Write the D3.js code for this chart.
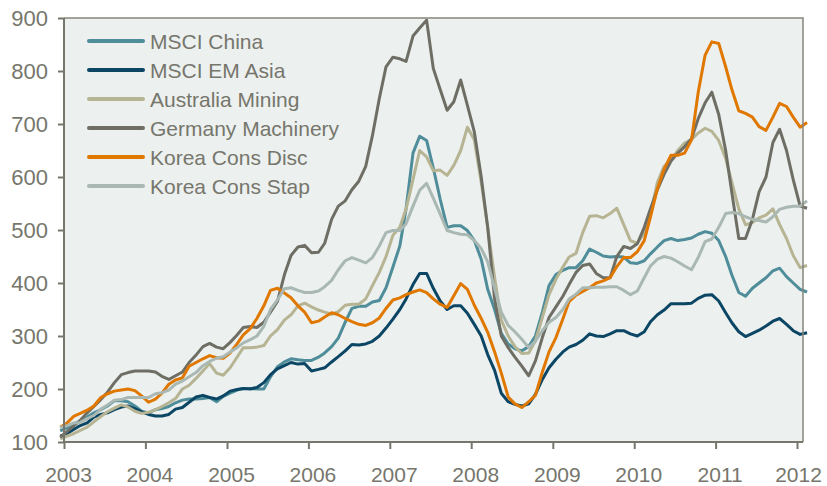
<!DOCTYPE html>
<html>
<head>
<meta charset="utf-8">
<script src="https://cdn.jsdelivr.net/npm/d3@7"></script>
<style>
body { margin: 0; background: #fff; }
svg { display: block; font-family: "Liberation Sans", Arial, sans-serif; }
</style>
</head>
<body>
<script>
// monthly index values, Dec 2002 .. Feb 2012 (one row per year)
var msciChina = [121,
  127,134,140,147,155,161,168,178,178,176,168,158,
  155,161,163,167,174,179,181,181,182,184,176,186,
  192,198,201,201,200,200,223,242,251,257,255,254,
  254,260,268,280,296,326,352,356,356,364,367,391,
  430,470,540,645,677,669,617,558,505,508,508,499,
  480,445,388,350,305,285,276,272,280,300,345,395,
  416,424,429,429,442,464,458,451,449,450,449,438,
  437,442,455,468,480,484,480,482,485,492,497,494,
  480,450,415,382,375,390,400,410,423,428,412,400,
  388,383];

var msciEmAsia = [111,
  116,124,131,136,147,152,155,161,166,168,163,157,
  152,149,149,152,162,165,175,185,188,184,181,187,
  196,199,201,200,203,212,227,238,244,250,247,248,
  234,237,240,251,261,272,284,283,285,290,300,315,
  332,350,370,397,418,418,390,366,350,357,357,343,
  322,300,265,235,192,176,171,168,172,190,218,240,
  256,270,279,284,292,304,300,299,304,310,310,304,
  300,308,327,340,349,361,361,361,362,371,377,378,
  366,344,325,308,299,305,311,319,328,333,322,310,
  303,306];

var australiaMining = [106,
  111,116,122,128,138,148,157,164,170,166,158,154,
  156,161,167,174,182,200,207,220,234,248,230,226,
  240,260,278,278,279,282,300,312,330,340,357,362,
  355,349,345,341,346,358,360,360,370,395,420,450,
  490,505,540,595,650,638,612,613,603,622,650,694,
  670,590,505,410,330,300,280,267,268,291,335,378,
  407,430,449,456,495,526,527,523,531,541,510,480,
  475,494,530,590,620,632,650,664,671,683,692,686,
  669,635,590,540,510,514,523,528,540,510,484,452,
  429,433];

var germanyMachinery = [109,
  120,131,141,155,167,180,194,212,227,231,234,234,
  234,232,224,218,225,232,250,264,280,286,279,276,
  288,302,316,318,316,326,345,365,415,452,468,471,
  457,458,475,520,545,555,576,592,620,678,748,808,
  826,823,818,866,881,896,805,765,726,742,783,735,
  685,600,505,370,300,278,260,243,225,253,297,335,
  355,375,397,420,433,436,418,410,410,450,469,465,
  474,505,540,576,605,630,645,657,672,710,740,760,
  718,650,570,484,484,520,572,600,665,690,650,595,
  545,541];

var koreaConsDisc = [128,
  136,149,154,160,168,184,191,196,198,200,197,187,
  175,181,192,209,217,221,243,250,257,263,259,258,
  268,285,302,314,333,357,386,390,381,372,357,345,
  325,328,336,344,340,333,327,322,320,325,334,352,
  368,372,378,383,387,382,370,360,354,376,399,388,
  358,333,307,270,230,185,172,165,176,188,232,270,
  297,332,365,377,384,391,400,404,410,431,448,448,
  459,480,525,578,615,641,641,645,670,760,830,855,
  852,808,765,725,720,713,695,688,713,739,733,713,
  694,703];

var koreaConsStap = [127,
  131,136,137,144,150,162,170,179,180,184,184,184,
  184,191,193,198,209,215,223,231,244,252,258,261,
  270,278,287,293,300,318,350,368,389,391,386,382,
  382,385,393,405,425,442,448,443,438,448,470,495,
  499,499,512,545,575,588,560,530,499,495,492,491,
  480,465,440,390,345,320,308,294,278,290,310,326,
  335,350,370,379,391,391,392,392,393,393,386,378,
  385,410,432,445,450,447,440,432,425,448,478,483,
  505,531,533,531,525,520,518,515,525,539,543,545,
  545,555];

var seriesNames = ["MSCI China", "MSCI EM Asia", "Australia Mining",
                   "Germany Machinery", "Korea Cons Disc", "Korea Cons Stap"];
var seriesColors = ["#4e8d99", "#0c4665", "#b6b493", "#6e6e65", "#e07800", "#a9b8b3"];
var seriesValues = [msciChina, msciEmAsia, australiaMining, germanyMachinery, koreaConsDisc, koreaConsStap];

var yTicks = [100, 200, 300, 400, 500, 600, 700, 800, 900];
var yearTicks = [2003, 2004, 2005, 2006, 2007, 2008, 2009, 2010, 2011, 2012];

// months Dec 2002 .. Feb 2012, plotted mid-month
var months = d3.timeMonth.range(new Date(2002, 11, 1), new Date(2012, 2, 1));

var axisColor = "#76766c";

//---------setup plot-----------------------//
var margin = { top: 18, right: 24, bottom: 44, left: 64 },
    width = 827 - margin.left - margin.right,
    height = 486 - margin.top - margin.bottom;

var x = d3.scaleTime()
    .domain([new Date(2003, 0, 1), new Date(2012, 0, 1)])
    .range([0, width - 6]);

var y = d3.scaleLinear()
    .domain([100, 900])
    .range([height, 0]);

var svg = d3.select("body").append("svg")
    .attr("width", 827)
    .attr("height", 486);

var g = svg.append("g")
    .attr("transform", "translate(" + margin.left + "," + margin.top + ")");

// plot background
g.append("rect")
    .attr("width", width)
    .attr("height", height)
    .attr("fill", "#ecf0ef");

//-------------data----------//
var line = d3.line()
    .x(function(d, i) { return x(d3.timeDay.offset(months[i], 14)); })
    .y(function(d) { return y(d); });

g.selectAll(".series")
    .data(seriesValues)
    .enter().append("path")
    .attr("class", "series")
    .attr("d", function(d) { return line(d); })
    .attr("fill", "none")
    .attr("stroke", function(d, i) { return seriesColors[i]; })
    .attr("stroke-width", 3)
    .attr("stroke-linejoin", "round");

// frame: top + right lighter, left + bottom axis lines
g.append("path")
    .attr("d", "M0,0H" + width + "V" + height)
    .attr("fill", "none")
    .attr("stroke", "#85857c")
    .attr("stroke-width", 1.5);

// y-axis
var yAxis = g.append("g")
    .call(d3.axisLeft(y).tickValues(yTicks).tickSize(6).tickPadding(10).tickSizeOuter(0));

// x-axis
var xAxis = g.append("g")
    .attr("transform", "translate(0," + height + ")")
    .call(d3.axisBottom(x)
        .tickValues(yearTicks.map(function(yr) { return new Date(yr, 0, 1); }))
        .tickFormat(d3.timeFormat("%Y"))
        .tickSize(7).tickPadding(18).tickSizeOuter(0));

[yAxis, xAxis].forEach(function(a) {
    a.select(".domain").remove();
    a.selectAll(".tick line").attr("stroke", axisColor).attr("stroke-width", 2);
    a.selectAll(".tick text").attr("fill", axisColor).style("font-family", "'Liberation Sans', Arial, sans-serif");
});
yAxis.selectAll(".tick text").style("font-size", "22px");
// year labels sit a little right of their ticks, the last one less so
xAxis.selectAll(".tick text")
    .style("font-size", "21px")
    .attr("x", function(d, i) { return i === yearTicks.length - 1 ? 1 : 4; });

g.append("path")
    .attr("d", "M0,0V" + height + "H" + width)
    .attr("fill", "none")
    .attr("stroke", axisColor)
    .attr("stroke-width", 2);

//-------------legend----------//
var legend = svg.append("g")
    .attr("transform", "translate(88,41)");

var item = legend.selectAll(".item")
    .data(seriesNames)
    .enter().append("g")
    .attr("class", "item")
    .attr("transform", function(d, i) { return "translate(0," + (i * 29) + ")"; });

item.append("line")
    .attr("x1", 1).attr("x2", 55)
    .attr("stroke", function(d, i) { return seriesColors[i]; })
    .attr("stroke-width", 4)
    .attr("stroke-linecap", "round");

item.append("text")
    .attr("x", 62)
    .attr("dy", "0.36em")
    .attr("fill", axisColor)
    .style("font-size", "21px")
    .text(function(d) { return d; });
</script>
</body>
</html>
